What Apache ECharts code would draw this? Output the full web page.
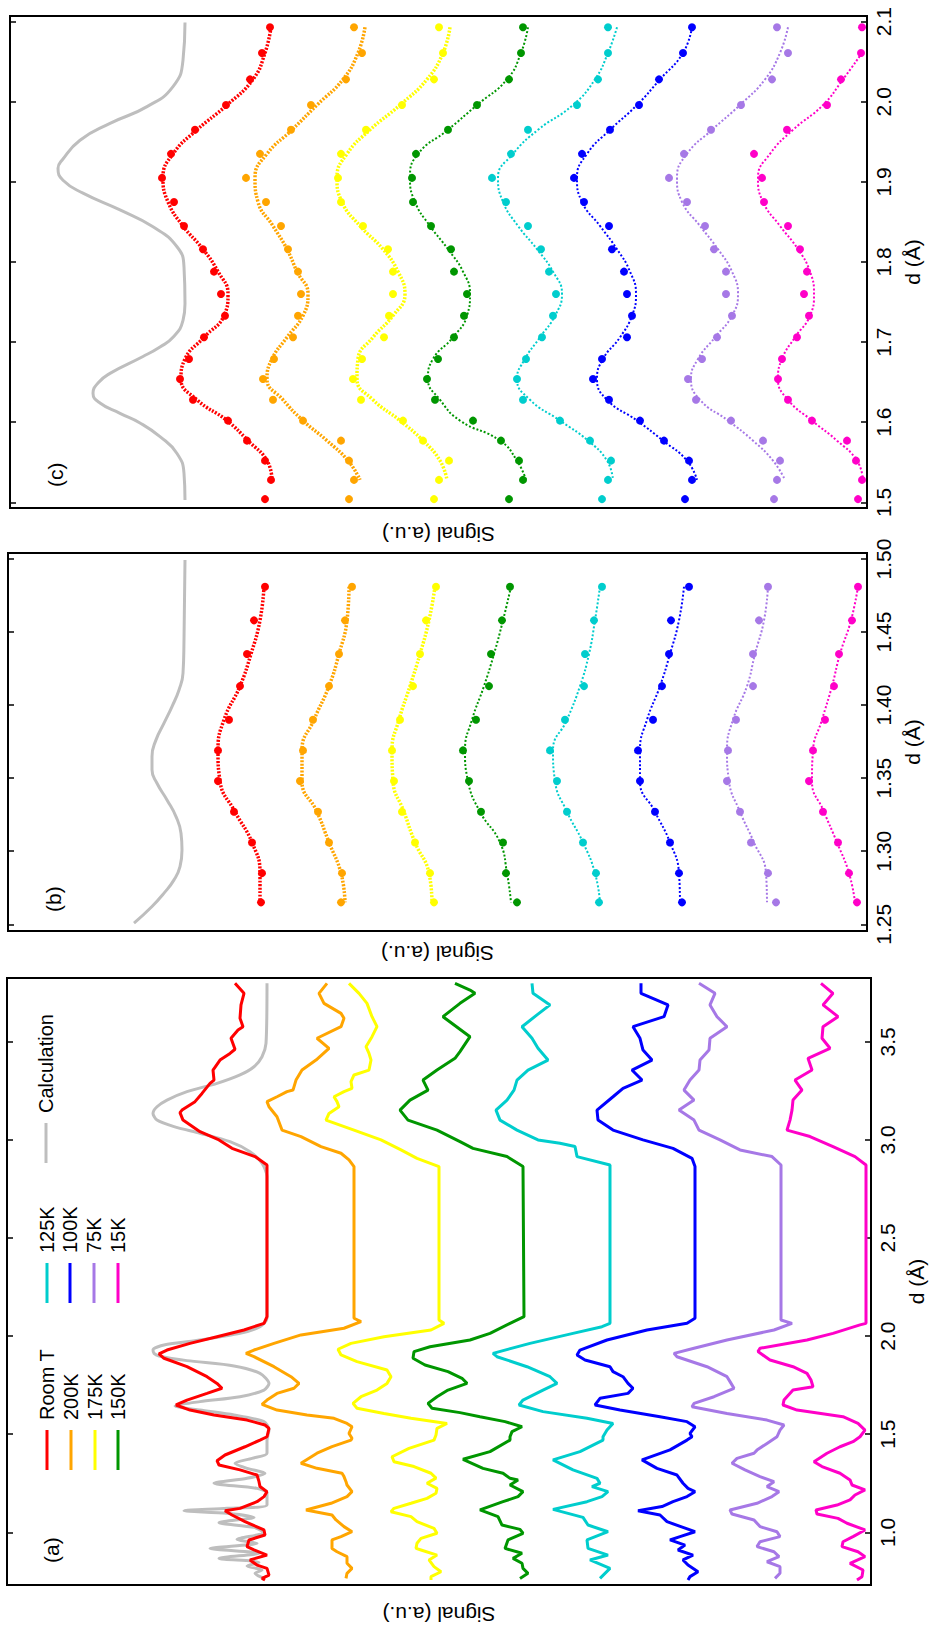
<!DOCTYPE html>
<html>
<head>
<meta charset="utf-8">
<script src="https://cdn.jsdelivr.net/npm/echarts@6.0.0/dist/echarts.min.js"></script>
<style>
html,body{margin:0;padding:0;background:#fff;overflow:hidden;}
#chart{width:931px;height:1631px;}
</style>
</head>
<body>
<div id="chart"></div>
<script>
// ---------------- DATA ----------------
const tempNames = ['Room T', '200K', '175K', '150K', '125K', '100K', '75K', '15K'];
const tempColors = ['#ff0000', '#ffa500', '#ffff00', '#009600', '#00cdcd', '#0000ff', '#a678e6', '#ff00c8'];
const calcName = 'Calculation';
const calcColor = '#bebebe';

// Panel (a): [d (Å), signal above the curve's own baseline]
const aOffsets = [604, 517, 432, 347, 261, 176, 90, 5];
const aCalcOffset = 604;
const aCalc = [[3.798,0],[3.492,1],[3.424,5],[3.373,13],[3.331,27],[3.288,50],[3.246,80],[3.203,100],[3.169,110],[3.135,114],[3.101,110],[3.068,93],[3.034,67],[2.991,37],[2.940,17],[2.881,5],[2.813,0],[2.091,0],[2.048,7],[2.014,27],[1.980,67],[1.955,103],[1.930,114],[1.912,113],[1.899,108],[1.875,80],[1.848,33],[1.810,7],[1.759,-2],[1.725,3],[1.691,27],[1.666,67],[1.644,92],[1.623,67],[1.598,33],[1.564,3],[1.521,-2],[1.470,0],[1.403,0],[1.377,15],[1.352,32],[1.326,20],[1.301,2],[1.275,20],[1.250,53],[1.224,10],[1.199,0],[1.139,0],[1.122,40],[1.110,83],[1.097,40],[1.076,13],[1.049,48],[1.025,13],[0.998,3],[0.964,30],[0.944,10],[0.918,57],[0.893,8],[0.867,48],[0.847,8],[0.828,20],[0.808,5],[0.791,12],[0.765,3]];
const aRoomT = [[3.798,32],[3.747,23],[3.688,26],[3.620,27],[3.577,24],[3.560,29],[3.518,36],[3.462,32],[3.441,37],[3.407,47],[3.356,54],[3.305,53],[3.288,57],[3.237,65],[3.195,72],[3.152,85],[3.139,87],[3.101,84],[3.042,67],[3.000,48],[2.957,35],[2.915,12],[2.872,0],[2.099,0],[2.065,3],[2.031,23],[1.997,50],[1.963,77],[1.929,100],[1.909,108],[1.887,103],[1.844,80],[1.793,60],[1.759,50],[1.734,45],[1.708,60],[1.674,80],[1.649,91],[1.623,77],[1.598,53],[1.572,20],[1.547,2],[1.530,-2],[1.487,0],[1.470,7],[1.436,22],[1.394,42],[1.365,50],[1.343,48],[1.318,27],[1.292,10],[1.258,8],[1.233,7],[1.207,0],[1.182,3],[1.156,10],[1.122,27],[1.110,42],[1.088,35],[1.054,22],[1.012,3],[0.986,2],[0.961,18],[0.927,20],[0.910,13],[0.884,0],[0.859,17],[0.833,10],[0.816,0],[0.782,-2],[0.765,5],[0.757,2]];
const a200K = [[3.798,27],[3.747,35],[3.696,30],[3.645,13],[3.620,10],[3.577,13],[3.518,37],[3.467,25],[3.407,38],[3.356,52],[3.305,58],[3.254,61],[3.246,67],[3.220,77],[3.195,87],[3.169,85],[3.118,77],[3.050,72],[3.017,53],[2.966,33],[2.932,13],[2.898,5],[2.864,0],[2.091,0],[2.074,-7],[2.040,10],[2.006,53],[1.963,80],[1.929,100],[1.912,108],[1.895,100],[1.844,80],[1.793,63],[1.759,55],[1.734,60],[1.708,77],[1.674,87],[1.652,92],[1.623,77],[1.598,47],[1.581,20],[1.555,7],[1.538,2],[1.504,5],[1.479,2],[1.470,3],[1.437,22],[1.403,37],[1.352,53],[1.326,37],[1.301,12],[1.284,10],[1.258,8],[1.241,7],[1.207,2],[1.182,7],[1.148,23],[1.114,48],[1.088,22],[1.063,18],[1.029,10],[1.003,2],[0.978,13],[0.961,22],[0.918,22],[0.901,17],[0.876,7],[0.842,7],[0.816,2],[0.791,7],[0.765,8]];
const a175K = [[3.798,90],[3.747,80],[3.696,72],[3.628,67],[3.577,62],[3.526,67],[3.475,73],[3.441,70],[3.407,68],[3.356,70],[3.331,85],[3.297,88],[3.263,87],[3.246,95],[3.220,105],[3.195,102],[3.169,100],[3.135,110],[3.101,113],[3.050,85],[3.000,58],[2.949,38],[2.906,22],[2.864,0],[2.082,0],[2.065,-5],[2.031,8],[1.997,55],[1.963,88],[1.933,101],[1.904,98],[1.870,82],[1.827,52],[1.793,48],[1.759,52],[1.725,62],[1.691,78],[1.657,86],[1.632,82],[1.606,55],[1.581,28],[1.555,-8],[1.530,2],[1.496,3],[1.470,5],[1.428,30],[1.385,47],[1.360,45],[1.335,25],[1.301,8],[1.276,3],[1.250,12],[1.224,2],[1.199,3],[1.173,12],[1.148,28],[1.122,45],[1.105,48],[1.080,28],[1.054,22],[1.020,5],[0.995,2],[0.969,18],[0.944,22],[0.918,23],[0.910,18],[0.884,2],[0.859,10],[0.825,5],[0.799,-2],[0.774,8],[0.757,8]];
const a150K = [[3.798,69],[3.764,54],[3.747,49],[3.696,64],[3.628,81],[3.526,54],[3.450,64],[3.416,69],[3.356,87],[3.305,101],[3.254,96],[3.203,114],[3.152,124],[3.101,116],[3.050,87],[2.991,64],[2.957,51],[2.915,17],[2.864,1],[2.099,0],[2.065,14],[2.014,34],[1.980,54],[1.946,94],[1.921,110],[1.887,111],[1.853,99],[1.819,76],[1.785,62],[1.759,57],[1.725,76],[1.691,87],[1.657,96],[1.632,92],[1.610,64],[1.589,44],[1.564,19],[1.538,2],[1.513,12],[1.487,14],[1.470,14],[1.411,34],[1.372,61],[1.326,41],[1.301,21],[1.275,14],[1.267,6],[1.241,14],[1.207,1],[1.182,6],[1.156,21],[1.114,44],[1.080,26],[1.037,22],[1.015,4],[0.995,1],[0.961,16],[0.918,19],[0.893,2],[0.867,11],[0.842,2],[0.816,1],[0.791,-4],[0.765,4]];
const a125K = [[3.798,78],[3.747,77],[3.688,60],[3.637,73],[3.577,88],[3.518,78],[3.467,72],[3.407,62],[3.356,82],[3.305,93],[3.254,96],[3.203,103],[3.152,114],[3.101,110],[3.050,93],[3.000,72],[2.983,50],[2.966,35],[2.915,33],[2.872,0],[2.065,0],[2.048,8],[2.014,37],[1.963,80],[1.912,117],[1.895,113],[1.844,83],[1.793,60],[1.759,53],[1.725,67],[1.674,87],[1.649,91],[1.615,67],[1.581,23],[1.555,-3],[1.521,3],[1.487,7],[1.470,7],[1.411,30],[1.369,57],[1.318,37],[1.275,13],[1.250,10],[1.233,18],[1.207,2],[1.182,8],[1.156,23],[1.117,57],[1.076,27],[1.037,22],[1.003,2],[0.961,23],[0.918,22],[0.884,2],[0.859,20],[0.816,0],[0.765,10]];
const a100K = [[3.798,54],[3.747,54],[3.688,27],[3.628,31],[3.577,62],[3.518,55],[3.458,52],[3.407,43],[3.356,63],[3.305,53],[3.263,72],[3.220,82],[3.152,98],[3.101,97],[3.050,82],[3.000,52],[2.957,22],[2.906,3],[2.864,0],[2.091,0],[2.065,8],[2.031,48],[1.980,88],[1.929,115],[1.904,118],[1.878,110],[1.844,85],[1.819,82],[1.793,72],[1.759,67],[1.734,62],[1.708,67],[1.683,95],[1.649,100],[1.623,75],[1.589,35],[1.564,8],[1.538,0],[1.504,5],[1.487,3],[1.470,8],[1.420,25],[1.369,53],[1.326,38],[1.292,18],[1.250,12],[1.224,7],[1.207,0],[1.182,8],[1.156,22],[1.131,33],[1.110,57],[1.088,35],[1.054,28],[1.025,12],[1.003,0],[0.978,15],[0.961,25],[0.935,10],[0.910,17],[0.884,2],[0.859,12],[0.833,7],[0.799,-3],[0.774,5],[0.757,7]];
const a75K = [[3.798,82],[3.747,66],[3.688,71],[3.628,64],[3.577,54],[3.518,71],[3.458,72],[3.407,81],[3.356,82],[3.305,91],[3.254,97],[3.203,87],[3.152,102],[3.101,87],[3.050,82],[3.000,61],[2.949,41],[2.915,9],[2.872,0],[2.082,0],[2.065,-11],[2.031,7],[1.980,54],[1.938,87],[1.912,107],[1.895,104],[1.844,74],[1.793,54],[1.768,51],[1.734,47],[1.691,67],[1.657,87],[1.640,89],[1.606,54],[1.572,14],[1.547,-3],[1.521,1],[1.487,4],[1.453,14],[1.419,24],[1.403,27],[1.377,44],[1.352,49],[1.318,36],[1.284,21],[1.258,7],[1.233,14],[1.207,2],[1.182,9],[1.148,24],[1.114,51],[1.093,49],[1.063,27],[1.029,21],[1.003,4],[0.978,1],[0.952,21],[0.927,24],[0.901,7],[0.876,2],[0.850,14],[0.825,1],[0.791,1],[0.765,6]];
const a15K = [[3.798,45],[3.747,33],[3.688,43],[3.628,28],[3.577,43],[3.518,44],[3.467,36],[3.416,58],[3.356,54],[3.305,71],[3.254,64],[3.203,73],[3.152,74],[3.101,76],[3.050,79],[3.017,56],[2.966,33],[2.915,11],[2.872,0],[2.065,0],[2.057,6],[2.014,33],[1.980,59],[1.938,106],[1.921,108],[1.878,96],[1.844,73],[1.810,59],[1.776,55],[1.742,53],[1.725,73],[1.674,82],[1.649,83],[1.623,69],[1.589,23],[1.555,8],[1.521,1],[1.487,6],[1.462,13],[1.436,26],[1.403,39],[1.360,52],[1.335,44],[1.301,26],[1.267,16],[1.241,14],[1.216,1],[1.190,11],[1.165,16],[1.139,29],[1.114,50],[1.093,49],[1.071,28],[1.046,19],[1.012,1],[0.978,13],[0.952,23],[0.927,24],[0.901,8],[0.876,1],[0.842,16],[0.808,3],[0.774,4],[0.757,9]];

// Panel (b): measured d grid, points and fits (signal, a.u.)
const bD = [1.481, 1.458, 1.435, 1.413, 1.390, 1.369, 1.348, 1.327, 1.306, 1.285, 1.265];
const bRoomT = [602, 613, 620, 627, 638, 649, 649, 633, 615, 605, 606];
const b200K = [515, 522, 528, 538, 554, 564, 567, 549, 538, 525, 526];
const b175K = [431, 441, 447, 454, 467, 475, 473, 465, 452, 437, 433];
const b150K = [357, 365, 376, 378, 391, 404, 398, 386, 364, 361, 350];
const b125K = [265, 273, 282, 283, 302, 317, 310, 300, 284, 271, 268];
const b100K = [178, 196, 198, 205, 214, 229, 227, 212, 197, 188, 185];
const b75K = [99, 108, 114, 114, 131, 139, 140, 127, 116, 99, 91];
const b15K = [9, 15, 28, 33, 42, 54, 58, 44, 29, 18, 10];
const bRoomTFit = [603, 607, 616, 627, 643, 649, 647, 632, 615, 607, 607];
const b200KFit = [518, 520, 528, 538, 553, 565, 565, 550, 538, 526, 522];
const b175KFit = [432, 438, 447, 457, 468, 475, 474, 463, 452, 438, 435];
const b150KFit = [356, 364, 373, 383, 395, 402, 399, 387, 367, 360, 356];
const b125KFit = [267, 272, 278, 287, 300, 314, 312, 300, 284, 272, 267];
const b100KFit = [183, 188, 197, 207, 220, 227, 227, 212, 197, 188, 187];
const b75KFit = [99, 103, 112, 120, 134, 140, 138, 127, 113, 101, 100];
const b15KFit = [9, 16, 27, 35, 45, 54, 55, 43, 30, 18, 12];
const bCalc = [[1.4993,682],[1.4446,683],[1.4218,684],[1.4104,688],[1.399,695],[1.3876,703],[1.3762,711],[1.3648,715],[1.3557,715],[1.3465,710],[1.3351,700],[1.3237,691],[1.3123,686],[1.3009,685],[1.2895,687],[1.2804,693],[1.2713,703],[1.2622,715],[1.2508,733]];

// Panel (c): measured d grid, points and fits (signal, a.u.)
const cD = [2.093, 2.061, 2.028, 1.996, 1.965, 1.935, 1.905, 1.875, 1.845, 1.816, 1.788, 1.760, 1.733, 1.706, 1.679, 1.654, 1.628, 1.602, 1.577, 1.552, 1.528, 1.504];
const cRoomT = [597, 605, 617, 641, 672, 696, 705, 693, 683, 664, 653, 646, 642, 663, 678, 687, 674, 639, 620, 602, 596, 602];
const c200K = [513, 505, 521, 556, 576, 607, 621, 601, 586, 579, 569, 566, 569, 574, 593, 604, 594, 564, 526, 518, 513, 518];
const c175K = [428, 424, 433, 465, 501, 526, 529, 526, 504, 479, 474, 474, 478, 483, 505, 514, 506, 464, 444, 418, 428, 433];
const c150K = [344, 346, 358, 390, 419, 451, 455, 454, 436, 416, 413, 400, 403, 413, 429, 440, 432, 394, 366, 348, 344, 358];
const c125K = [259, 259, 269, 290, 339, 356, 375, 361, 339, 326, 318, 311, 314, 325, 341, 350, 344, 307, 277, 256, 259, 265];
const c100K = [175, 184, 208, 228, 257, 285, 293, 283, 258, 255, 243, 240, 235, 240, 265, 274, 258, 227, 203, 178, 175, 182];
const c75K = [90, 79, 95, 126, 156, 183, 198, 180, 162, 153, 141, 141, 135, 150, 165, 179, 171, 136, 104, 87, 90, 93];
const c15K = [5, 6, 26, 40, 80, 113, 105, 103, 79, 67, 60, 63, 58, 70, 85, 89, 79, 55, 20, 11, 5, 9];
const cRoomTFit = [596, 602, 614, 640, 670, 694, 704, 699, 684, 664, 649, 639, 643, 663, 682, 686, 670, 640, 619, 600, 595];
const c200KFit = [502, 509, 524, 550, 575, 600, 612, 609, 594, 580, 570, 559, 564, 580, 595, 600, 584, 564, 540, 519, 507];
const c175KFit = [417, 424, 440, 467, 497, 520, 530, 525, 507, 484, 469, 462, 474, 494, 509, 510, 494, 467, 444, 427, 420];
const c150KFit = [339, 346, 360, 390, 419, 449, 457, 452, 437, 419, 404, 397, 400, 414, 434, 439, 427, 407, 367, 350, 341];
const c125KFit = [250, 259, 272, 294, 329, 354, 369, 364, 349, 330, 314, 305, 312, 327, 342, 350, 337, 307, 279, 260, 254];
const c100KFit = [175, 184, 207, 230, 257, 280, 290, 285, 267, 250, 237, 231, 235, 247, 264, 270, 260, 230, 204, 180, 170];
const c75KFit = [79, 87, 102, 127, 155, 180, 190, 185, 167, 149, 135, 129, 135, 152, 169, 176, 167, 139, 114, 94, 82];
const c15KFit = [null, 5, 24, 44, 74, 97, 109, 104, 87, 69, 57, 53, 57, 72, 85, 89, 79, 55, 30, 10, 4];
const cCalc = [[2.099,682],[2.052,684],[2.019,694],[1.994,720],[1.973,757],[1.952,787],[1.927,805],[1.917,809],[1.902,804],[1.886,784],[1.865,747],[1.844,714],[1.819,690],[1.794,683],[1.748,682],[1.727,684],[1.706,694],[1.694,707],[1.682,724],[1.661,757],[1.649,769],[1.636,774],[1.624,767],[1.611,747],[1.599,727],[1.582,707],[1.561,690],[1.536,683],[1.503,682]];

// Axis tick labels
const aTicks = [1.0, 1.5, 2.0, 2.5, 3.0, 3.5];
const bTicks = [1.25, 1.30, 1.35, 1.40, 1.45, 1.50];
const cTicks = [1.5, 1.6, 1.7, 1.8, 1.9, 2.0, 2.1];

// ---------------- CHART ----------------
const FONT = "'Liberation Sans', Arial, Helvetica, sans-serif";
const aCurves = [aRoomT, a200K, a175K, a150K, a125K, a100K, a75K, a15K];
const bDots = [bRoomT, b200K, b175K, b150K, b125K, b100K, b75K, b15K];
const bFits = [bRoomTFit, b200KFit, b175KFit, b150KFit, b125KFit, b100KFit, b75KFit, b15KFit];
const cDots = [cRoomT, c200K, c175K, c150K, c125K, c100K, c75K, c15K];
const cFits = [cRoomTFit, c200KFit, c175KFit, c150KFit, c125KFit, c100KFit, c75KFit, c15KFit];

// grids: 0 = (a), 1 = (b), 2 = (c)
const grids = [
  {left: 7, top: 978, width: 864, height: 607},
  {left: 8, top: 553, width: 859, height: 378},
  {left: 10, top: 16, width: 857, height: 492}
].map(g => Object.assign(g, {show: true, borderColor: '#000', borderWidth: 2, backgroundColor: 'transparent', containLabel: false, outerBoundsMode: 'none'}));

const dRanges = [[0.7314, 3.8252], [1.2454, 1.5041], [1.4929, 2.1071]];
const dTicks = [aTicks, bTicks, cTicks];
const dDec = [1, 2, 1];
const sigGaps = [19, 12, 16];

const xAxes = grids.map((g, i) => ({
  type: 'value', gridIndex: i, min: 0, max: g.width, inverse: true,
  name: 'Signal (a.u.)', nameLocation: 'middle', nameRotate: 180, nameGap: sigGaps[i],
  nameTextStyle: {fontSize: 21, fontFamily: FONT, color: '#000'},
  axisLine: {show: false}, axisTick: {show: false}, axisLabel: {show: false}, splitLine: {show: false}
}));

const yAxes = [];
grids.forEach((g, i) => {
  ['right', 'left'].forEach(pos => {
    const main = pos === 'right';
    yAxes.push({
      type: 'value', gridIndex: i, min: dRanges[i][0], max: dRanges[i][1], position: pos,
      name: main ? 'd (Å)' : '', nameLocation: 'middle', nameRotate: 90, nameGap: 34,
      nameTextStyle: {fontSize: 21, fontFamily: FONT, color: '#000'},
      axisLine: {show: false}, splitLine: {show: false},
      axisTick: {show: true, inside: true, length: 6, lineStyle: {color: '#000', width: 1.5}, customValues: dTicks[i]},
      axisLabel: {show: main, rotate: 90, margin: 6, fontSize: 21, fontFamily: FONT, color: '#000',
        customValues: dTicks[i], formatter: v => Number(v).toFixed(dDec[i])}
    });
  });
});

const series = [];
// Panel (a)
series.push({
  name: calcName, type: 'line', xAxisIndex: 0, yAxisIndex: 0, showSymbol: false, smooth: 0.25,
  data: aCalc.map(p => [aCalcOffset + p[1], p[0]]),
  lineStyle: {color: calcColor, width: 3}, itemStyle: {color: calcColor}, z: 2
});
aCurves.forEach((c, i) => series.push({
  name: tempNames[i], type: 'line', xAxisIndex: 0, yAxisIndex: 0, showSymbol: false,
  data: c.map(p => [aOffsets[i] + p[1], p[0]]),
  lineStyle: {color: tempColors[i], width: 3}, itemStyle: {color: tempColors[i]}, z: 3
}));

function addDotPanel(gi, dGrid, dots, fits, calc) {
  series.push({
    name: calcName, type: 'line', xAxisIndex: gi, yAxisIndex: gi * 2, showSymbol: false, smooth: true,
    data: calc.map(p => [p[1], p[0]]),
    lineStyle: {color: calcColor, width: 3}, itemStyle: {color: calcColor}, z: 2
  });
  fits.forEach((f, i) => {
    const thick = i < 3;
    series.push({
      name: tempNames[i], type: 'line', xAxisIndex: gi, yAxisIndex: gi * 2, showSymbol: false, smooth: true,
      data: f.map((v, k) => v === null ? null : [v, dGrid[k]]).filter(p => p !== null),
      lineStyle: {color: tempColors[i], width: thick ? 3.5 : 2, type: thick ? [2, 1.5] : [2, 2]},
      itemStyle: {color: tempColors[i]}, z: 3
    });
  });
  dots.forEach((d, i) => series.push({
    name: tempNames[i], type: 'scatter', xAxisIndex: gi, yAxisIndex: gi * 2, symbolSize: 8,
    data: d.map((v, k) => [v, dGrid[k]]),
    itemStyle: {color: tempColors[i], opacity: 1}, z: 4
  }));
}
addDotPanel(1, bD, bDots, bFits, bCalc);
addDotPanel(2, cD, cDots, cFits, cCalc);

// Legend (rotated, drawn as graphic) and panel labels
const ROT = Math.PI / 2;
const graphic = [];
function legendItem(x, yLine, text, color) {
  graphic.push({type: 'line', shape: {x1: x, y1: yLine, x2: x, y2: yLine - 40}, style: {stroke: color, lineWidth: 3}});
  graphic.push({type: 'text', x: x, y: yLine - 50, rotation: ROT,
    style: {text: text, fill: '#000', font: '20px ' + FONT, textAlign: 'left', textVerticalAlign: 'middle', align: 'left', verticalAlign: 'middle'}});
}
const col1X = [47, 71, 95, 118];
const col2X = [47, 70, 94, 118];
for (let i = 0; i < 4; i++) legendItem(col1X[i], 1470, tempNames[i], tempColors[i]);
for (let i = 0; i < 4; i++) legendItem(col2X[i], 1303, tempNames[i + 4], tempColors[i + 4]);
legendItem(46, 1163, calcName, calcColor);

[['(a)', 51, 1563], ['(b)', 53, 912], ['(c)', 55, 487]].forEach(t => graphic.push({
  type: 'text', x: t[1], y: t[2], rotation: ROT,
  style: {text: t[0], fill: '#000', font: '21px ' + FONT, textAlign: 'left', textVerticalAlign: 'middle', align: 'left', verticalAlign: 'middle'}
}));

const chart = echarts.init(document.getElementById('chart'), null, {renderer: 'svg'});
chart.setOption({
  animation: false,
  backgroundColor: '#ffffff',
  textStyle: {fontFamily: FONT},
  grid: grids,
  xAxis: xAxes,
  yAxis: yAxes,
  series: series,
  graphic: graphic
});
</script>
</body>
</html>
